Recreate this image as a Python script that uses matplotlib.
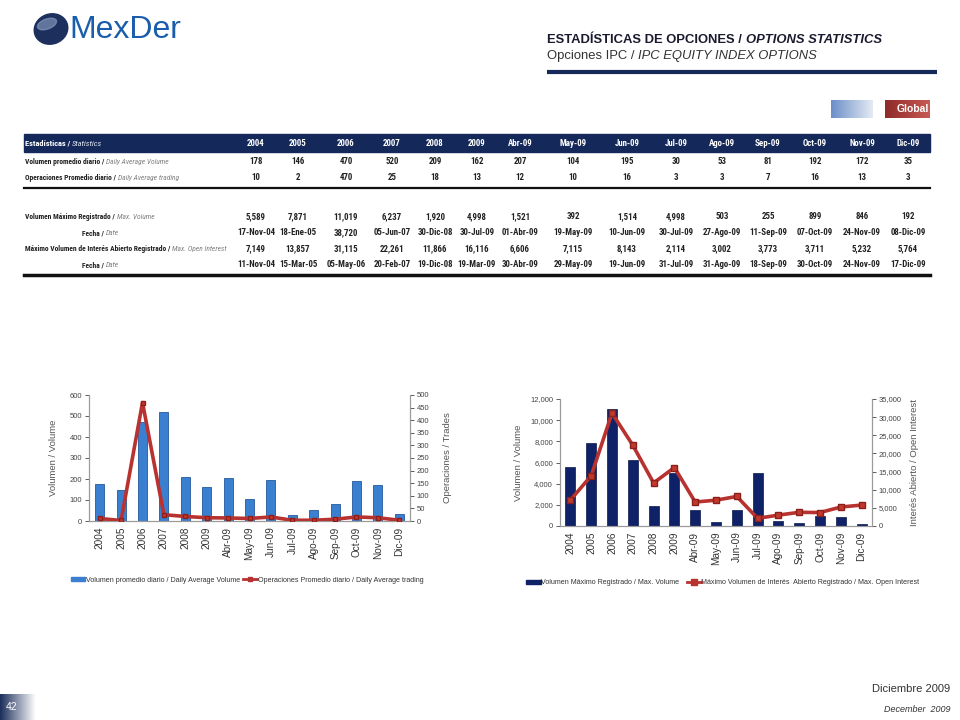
import os
import numpy as np
import matplotlib
matplotlib.use("Agg")
import matplotlib.pyplot as plt
from matplotlib import font_manager as fm
from matplotlib.font_manager import FontProperties
from matplotlib.patches import Ellipse, Rectangle
from matplotlib.lines import Line2D
from matplotlib.colors import LinearSegmentedColormap
from matplotlib.ticker import FuncFormatter

# data
periods = ["2004", "2005", "2006", "2007", "2008", "2009", "Abr-09", "May-09",
           "Jun-09", "Jul-09", "Ago-09", "Sep-09", "Oct-09", "Nov-09", "Dic-09"]
avg_volume = [178, 146, 470, 520, 209, 162, 207, 104, 195, 30, 53, 81, 192, 172, 35]
avg_trades = [10, 2, 470, 25, 18, 13, 12, 10, 16, 3, 3, 7, 16, 13, 3]
max_volume = [5589, 7871, 11019, 6237, 1920, 4998, 1521, 392, 1514, 4998, 503, 255, 899, 846, 192]
max_volume_date = ["17-Nov-04", "18-Ene-05", "38,720", "05-Jun-07", "30-Dic-08", "30-Jul-09",
                   "01-Abr-09", "19-May-09", "10-Jun-09", "30-Jul-09", "27-Ago-09", "11-Sep-09",
                   "07-Oct-09", "24-Nov-09", "08-Dic-09"]
max_oi = [7149, 13857, 31115, 22261, 11866, 16116, 6606, 7115, 8143, 2114, 3002, 3773, 3711, 5232, 5764]
max_oi_date = ["11-Nov-04", "15-Mar-05", "05-May-06", "20-Feb-07", "19-Dic-08", "19-Mar-09",
               "30-Abr-09", "29-May-09", "19-Jun-09", "31-Jul-09", "31-Ago-09", "18-Sep-09",
               "30-Oct-09", "24-Nov-09", "17-Dic-09"]

NAVY = "#14285a"
SANS = ["Liberation Sans", "DejaVu Sans"]
plt.rcParams["font.family"] = SANS


def find_narrow(bold, italic):
    # look for any narrow / condensed face installed (Arial Narrow look of the table)
    for key in ("liberationsansnarrow", "liberation sans narrow", "robotocondensed", "roboto condensed",
                "opensanscondensed", "open sans condensed", "dejavusanscondensed", "dejavu sans condensed"):
        for f in fm.fontManager.ttflist:
            n = (f.name + " " + os.path.basename(f.fname)).lower()
            if key not in n:
                continue
            w = f.weight
            is_bold = (w >= 600) if isinstance(w, int) else (w in ("bold", "heavy", "black", "demibold", "semibold"))
            is_ital = f.style != "normal"
            if is_bold == bold and is_ital == italic:
                return FontProperties(fname=f.fname)
    return None


nb = find_narrow(True, False)
ni = find_narrow(False, True)
if nb is not None and ni is not None:
    TB, TI, VSIZE, LSIZE = nb, ni, 6.4, 5.4
else:
    TB = FontProperties(family=SANS, weight="bold")
    TI = FontProperties(family=SANS, style="italic")
    VSIZE, LSIZE = 5.4, 4.6

fig = plt.figure(figsize=(9.6, 7.2), dpi=100)
bg = fig.add_axes([0, 0, 1, 1])
bg.set_xlim(0, 960)
bg.set_ylim(720, 0)
bg.axis("off")
renderer = fig.canvas.get_renderer()


def two_part(x, y, first, second, p1, p2, size, c1, c2, va="center"):
    # first part then second part right after it
    t1 = bg.text(x, y, first, fontproperties=p1, fontsize=size, color=c1, va=va)
    w = t1.get_window_extent(renderer).width
    bg.text(x + w, y, second, fontproperties=p2, fontsize=size, color=c2, va=va)


# logo
bg.add_patch(Ellipse((51, 29), 34, 30, angle=-20, color="#1d2f5c"))
bg.add_patch(Ellipse((47, 24), 20, 10, angle=-20, color="#8da3c7", alpha=0.6))
bg.text(69, 30, "MexDer", fontsize=23, color="#1a5dab", va="center", family=SANS)

# title
two_part(547, 40, "ESTADÍSTICAS DE OPCIONES / ", "OPTIONS STATISTICS",
         FontProperties(family=SANS, weight="bold"), FontProperties(family=SANS, weight="bold", style="italic"),
         9.4, "#1a1a2e", "#1a1a2e")
two_part(547, 56, "Opciones IPC / ", "IPC EQUITY INDEX OPTIONS",
         FontProperties(family=SANS), FontProperties(family=SANS, style="italic"),
         9.4, "#333333", "#333333")
bg.plot([547, 937], [72, 72], color=NAVY, lw=3, solid_capstyle="butt")

# "Global" strip
grad = np.linspace(0, 1, 50).reshape(1, -1)
bg.imshow(grad, extent=(831, 873, 118, 100), aspect="auto",
          cmap=LinearSegmentedColormap.from_list("b", ["#6c8fc8", "#e3eaf4"]))
bg.imshow(grad, extent=(885, 930, 118, 100), aspect="auto",
          cmap=LinearSegmentedColormap.from_list("r", ["#8e2a28", "#c85a55"]))
bg.text(929, 109, "Global", fontsize=7.5, color="white", fontweight="bold", ha="right", va="center")

# table (text drawn on a common baseline so commas don't shift rows)
col_x = [256, 298, 346, 392, 435, 477, 520, 573, 627, 676, 722, 768, 815, 862, 908]
bg.add_patch(Rectangle((24, 134), 906, 18, color=NAVY))
two_part(25, 146, "Estadísticas / ", "Statistics", TB, TI, LSIZE + 0.6, "white", "#dfe5f0", va="baseline")
for x, p in zip(col_x, periods):
    bg.text(x, 146, p, fontproperties=TB, fontsize=VSIZE, color="white", ha="center", va="baseline")

rows = [
    (161, 25, "Volumen promedio diario / ", "Daily Average Volume", [f"{v:,}" for v in avg_volume]),
    (177, 25, "Operaciones Promedio diario / ", "Daily Average trading", [f"{v:,}" for v in avg_trades]),
    (216, 25, "Volumen Máximo Registrado / ", "Max. Volume", [f"{v:,}" for v in max_volume]),
    (232, 82, "Fecha / ", "Date", max_volume_date),
    (248, 25, "Máximo Volumen de Interés Abierto Registrado / ", "Max. Open Interest", [f"{v:,}" for v in max_oi]),
    (264, 82, "Fecha / ", "Date", max_oi_date),
]
for y, xs, a, b, vals in rows:
    two_part(xs, y + 3, a, b, TB, TI, LSIZE, "#222222", "#808080", va="baseline")
    for x, v in zip(col_x, vals):
        bg.text(x, y + 3, v, fontproperties=TB, fontsize=VSIZE, color="#222222", ha="center", va="baseline")
bg.plot([24, 930], [188, 188], color="#111111", lw=1.6)
bg.plot([24, 930], [275, 275], color="#111111", lw=2.5)

x = np.arange(len(periods))


def style_axes(ax, ax2):
    for a in (ax, ax2):
        a.spines["top"].set_visible(False)
        for s in ("left", "right", "bottom"):
            a.spines[s].set_color("#9a9a9a")
            a.spines[s].set_linewidth(0.8)
        a.tick_params(axis="y", labelsize=5.5, colors="#444444", length=3, width=0.6, pad=2)
    ax.tick_params(axis="x", labelsize=7.2, colors="#333333", length=0, rotation=90, pad=4)
    ax.set_xticks(x)
    ax.set_xticklabels(periods)
    ax.set_xlim(-0.5, len(periods) - 0.5)


# chart 1: daily average volume / trades
ax1 = fig.add_axes([89 / 960, 1 - 521 / 720, 321 / 960, 126 / 720])
ax1b = ax1.twinx()
ax1.bar(x, avg_volume, width=0.42, color="#3b7fd0", edgecolor="#245a9e", linewidth=0.6)
ax1b.plot(x, avg_trades, color="#b8322f", lw=2.6, marker="s", markersize=3.5,
          markerfacecolor="#c0392b", markeredgecolor="#8b1f1c", zorder=3)
ax1.set_ylim(0, 600)
ax1.set_yticks(range(0, 601, 100))
ax1b.set_ylim(0, 500)
ax1b.set_yticks(range(0, 501, 50))
style_axes(ax1, ax1b)
ax1.set_ylabel("Volumen / Volume", fontsize=6.8, color="#555555", labelpad=8.5)
ax1b.set_ylabel("Operaciones / Trades", fontsize=6.8, color="#555555", labelpad=10)
h1 = [Rectangle((0, 0), 1, 1, color="#3b7fd0"),
      Line2D([], [], color="#b8322f", lw=2, marker="s", markersize=3.5)]
fig.legend(h1, ["Volumen promedio diario / Daily Average Volume",
                "Operaciones Promedio diario / Daily Average trading"],
           loc="center", bbox_to_anchor=(247 / 960, 1 - 580 / 720), ncol=2, frameon=False,
           fontsize=5.1, handlelength=2.0, handleheight=0.45, columnspacing=0.4, handletextpad=0.1,
           labelcolor="#333333")

# chart 2: max volume / open interest
ax2 = fig.add_axes([560 / 960, 1 - 526 / 720, 312 / 960, 127 / 720])
ax2b = ax2.twinx()
ax2.bar(x, max_volume, width=0.48, color="#0f2167", edgecolor="#0a174a", linewidth=0.5)
ax2b.plot(x, max_oi, color="#b8322f", lw=2.6, marker="s", markersize=4,
          markerfacecolor="#c0392b", markeredgecolor="#8b1f1c", zorder=3)
ax2.set_ylim(0, 12000)
ax2.set_yticks(range(0, 12001, 2000))
ax2b.set_ylim(0, 35000)
ax2b.set_yticks(range(0, 35001, 5000))
ax2.yaxis.set_major_formatter(FuncFormatter(lambda v, p: f"{v:,.0f}"))
ax2b.yaxis.set_major_formatter(FuncFormatter(lambda v, p: f"{v:,.0f}"))
style_axes(ax2, ax2b)
ax2.set_ylabel("Volumen / Volume", fontsize=6.8, color="#555555", labelpad=5)
ax2b.set_ylabel("Interés Abierto / Open Interest", fontsize=6.8, color="#555555", labelpad=6)
h2 = [Rectangle((0, 0), 1, 1, color="#0f2167"),
      Line2D([], [], color="#b8322f", lw=2, marker="s", markersize=4)]
fig.legend(h2, ["Volumen Máximo Registrado / Max. Volume",
                "Máximo Volumen de Interés  Abierto Registrado / Max. Open Interest"],
           loc="center", bbox_to_anchor=(723 / 960, 1 - 583 / 720), ncol=2, frameon=False,
           fontsize=5.1, handlelength=2.0, handleheight=0.45, columnspacing=1.0, handletextpad=0.1,
           labelcolor="#333333")

# footer
bg.text(950, 689, "Diciembre 2009", fontsize=8, color="#333333", ha="right", va="center")
bg.text(950, 709, "December  2009", fontsize=6.5, color="#333333", ha="right", va="center", style="italic")
bg.imshow(grad, extent=(0, 36, 720, 694), aspect="auto",
          cmap=LinearSegmentedColormap.from_list("n", ["#1d2f5c", "#ffffff"]))
bg.text(12, 707, "42", fontsize=7.5, color="white", ha="center", va="center")
bg.set_xlim(0, 960)
bg.set_ylim(720, 0)

fig.savefig("out.png", dpi=100)
